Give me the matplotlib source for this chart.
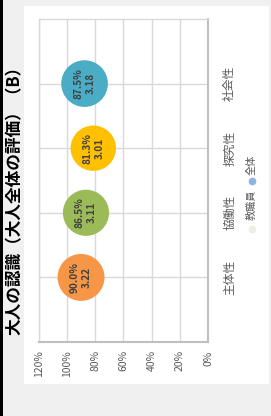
import matplotlib
matplotlib.use("Agg")
import matplotlib.pyplot as plt
from matplotlib.patches import Rectangle
from matplotlib.lines import Line2D

plt.rcParams['font.family'] = ['Noto Sans CJK JP', 'DejaVu Sans']

title = "大人の認識（大人全体の評価）（B）"
categories = ["主体性", "協働性", "探究性", "社会性"]
rates = [0.900, 0.865, 0.813, 0.875]
scores = [3.22, 3.11, 3.01, 3.18]
colors = ["#F79646", "#9BBB59", "#FFC000", "#4BACC6"]
xticks = [0, 0.2, 0.4, 0.6, 0.8, 1.0, 1.2]
xticklabels = ["0%", "20%", "40%", "60%", "80%", "100%", "120%"]
legend_labels = ["教職員", "全体"]
legend_colors = ["#EBF1DE", "#8DB4E2"]

W, H = 271, 416
fig = plt.figure(figsize=(W / 100, H / 100), dpi=100)
fig.patch.set_facecolor("#F0F0F0")

def fx(px):
    return px / W

def fy(py):
    return 1 - py / H

# black edge bar and white panel
fig.add_artist(Rectangle((0, 0), fx(2.5), 1, transform=fig.transFigure,
                         facecolor="black", edgecolor="none", zorder=0))
fig.add_artist(Rectangle((fx(24), fy(384)), fx(269) - fx(24), fy(6) - fy(384),
                         transform=fig.transFigure, facecolor="white",
                         edgecolor="none", zorder=0))

ax = fig.add_axes([fx(38.7), fy(342), fx(208) - fx(38.7), fy(19) - fy(342)])
ax.set_facecolor("none")
ypos = list(range(1, len(categories) + 1))
for y, r, s, c in zip(ypos, rates, scores, colors):
    ax.scatter(r, y, s=s * 355, color=c, edgecolors="none", zorder=3)
    ax.text(r, y, f"{r*100:.1f}%\n{s:.2f}", rotation=90, ha="center",
            va="center", fontsize=7.2, fontweight="bold", color="#404040",
            zorder=4, linespacing=1.25)

ax.set_xlim(1.2, 0)
ax.set_ylim(0, 5)
ax.set_xticks(xticks)
ax.set_xticklabels(xticklabels, rotation=90, fontsize=7.5, color="#595959")
ax.set_yticks(ypos)
ax.set_yticklabels(categories, rotation=90, fontsize=8.5, color="#595959",
                   va="center")
ax.yaxis.tick_right()
ax.tick_params(axis="both", length=0)
ax.tick_params(axis="x", pad=6)
ax.tick_params(axis="y", pad=11)
ax.grid(True, color="#D9D9D9", linewidth=1)
ax.set_axisbelow(True)
for side in ["top", "left"]:
    ax.spines[side].set_color("#D9D9D9")
    ax.spines[side].set_linewidth(1)
for side in ["right", "bottom"]:
    ax.spines[side].set_color("#BFBFBF")
    ax.spines[side].set_linewidth(1.5)

fig.text(fx(15), fy(196), title, rotation=90, ha="center", va="center",
         fontsize=12, fontweight="bold", color="black")

# legend
mk_y = [229, 181]
tx_y = [205, 165]
for lab, col, my, ty in zip(legend_labels, legend_colors, mk_y, tx_y):
    fig.add_artist(Line2D([fx(252)], [fy(my)], transform=fig.transFigure,
                          marker="o", markersize=4.5, color=col,
                          linestyle="none"))
    fig.text(fx(252), fy(ty), lab, rotation=90, ha="center", va="center",
             fontsize=7.3, color="#595959")

fig.savefig("out.png", dpi=100, facecolor=fig.get_facecolor())
